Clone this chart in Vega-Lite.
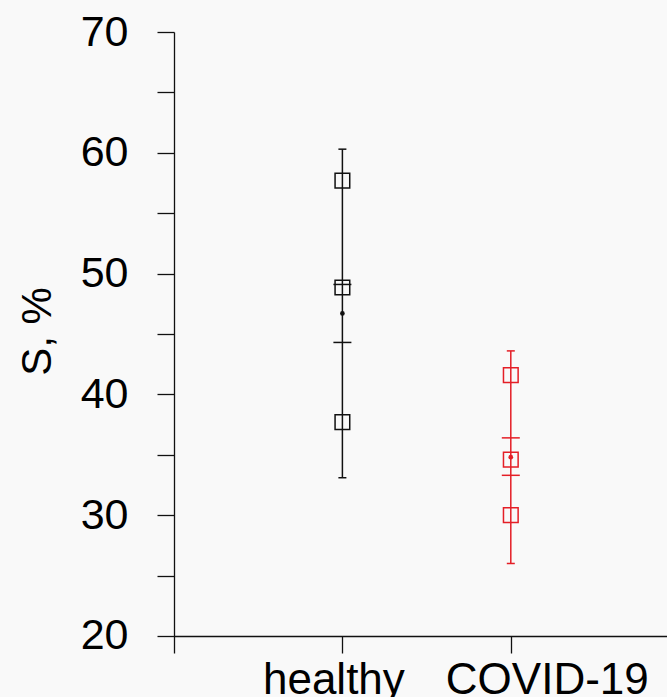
{
  "$schema": "https://vega.github.io/schema/vega-lite/v6.json",
  "autosize": {"type": "none"},
  "padding": {"left": 174, "top": 32, "right": 0, "bottom": 44},
  "width": 493,
  "height": 621,
  "background": "#f9f9f9",
  "config": {"view": {"stroke": null}, "font": "Liberation Sans"},
  "datasets": {
    "summary": [
      {"group": "healthy", "mean": 46.7, "se_lo": 44.3, "se_hi": 49.1, "lo": 33.1, "hi": 60.3},
      {"group": "COVID-19", "mean": 34.8, "se_lo": 33.3, "se_hi": 36.4, "lo": 26.0, "hi": 43.6}
    ],
    "points": [
      {"group": "healthy", "S": 57.7},
      {"group": "healthy", "S": 48.85},
      {"group": "healthy", "S": 37.7},
      {"group": "COVID-19", "S": 41.6},
      {"group": "COVID-19", "S": 34.6},
      {"group": "COVID-19", "S": 30.0}
    ]
  },
  "encoding": {
    "x": {
      "field": "group",
      "type": "nominal",
      "scale": {"type": "point", "domain": ["healthy", "COVID-19"], "range": [0, 505.2], "padding": 1},
      "axis": {
        "title": null,
        "offset": -17,
        "domainColor": "#111111",
        "domainWidth": 1.3,
        "tickColor": "#111111",
        "tickWidth": 1.3,
        "tickSize": 17,
        "labelFont": "Liberation Sans",
        "labelFontSize": 44,
        "labelColor": "#000000",
        "labelBaseline": "alphabetic",
        "labelPadding": 40,
        "labelAngle": 0,
        "labelLimit": 0,
        "labelOverlap": false,
        "labelOffset": {"condition": {"test": "datum.value === 'COVID-19'", "value": 36}, "value": -9}
      }
    },
    "color": {
      "field": "group",
      "type": "nominal",
      "scale": {"domain": ["healthy", "COVID-19"], "range": ["#111111", "#e41e26"]},
      "legend": null
    }
  },
  "layer": [
    {
      "data": {"name": "summary"},
      "mark": {"type": "rule", "strokeWidth": 1.5},
      "encoding": {
        "y": {
          "field": "lo",
          "type": "quantitative",
          "title": "S, %",
          "scale": {"domain": [18.59, 70], "nice": false, "zero": false},
          "axis": {
            "values": [20, 25, 30, 35, 40, 45, 50, 55, 60, 65, 70],
            "labelExpr": "datum.value % 10 === 0 ? datum.label : ''",
            "grid": false,
            "domainColor": "#111111",
            "domainWidth": 1.3,
            "tickColor": "#111111",
            "tickWidth": 1.3,
            "tickSize": 17,
            "labelFont": "Liberation Sans",
            "labelFontSize": 43,
            "labelColor": "#000000",
            "labelPadding": 29,
            "labelOverlap": false,
            "titleFont": "Liberation Sans",
            "titleFontSize": 42,
            "titleFontWeight": "normal",
            "titleColor": "#000000",
            "titleAngle": -90,
            "titleX": -124,
            "titleY": 299,
            "titleAlign": "center",
            "titleBaseline": "alphabetic"
          }
        },
        "y2": {"field": "hi"}
      }
    },
    {
      "data": {"name": "summary"},
      "mark": {"type": "tick", "size": 8, "thickness": 1.5, "opacity": 1},
      "encoding": {"y": {"field": "hi", "type": "quantitative", "title": "S, %"}}
    },
    {
      "data": {"name": "summary"},
      "mark": {"type": "tick", "size": 8, "thickness": 1.5, "opacity": 1},
      "encoding": {"y": {"field": "lo", "type": "quantitative", "title": "S, %"}}
    },
    {
      "data": {"name": "summary"},
      "mark": {"type": "tick", "size": 18, "thickness": 1.5, "opacity": 1},
      "encoding": {"y": {"field": "se_hi", "type": "quantitative", "title": "S, %"}}
    },
    {
      "data": {"name": "summary"},
      "mark": {"type": "tick", "size": 18, "thickness": 1.5, "opacity": 1},
      "encoding": {"y": {"field": "se_lo", "type": "quantitative", "title": "S, %"}}
    },
    {
      "data": {"name": "points"},
      "mark": {"type": "point", "shape": "square", "filled": false, "size": 215, "strokeWidth": 1.5, "opacity": 1},
      "encoding": {"y": {"field": "S", "type": "quantitative", "title": "S, %"}}
    },
    {
      "data": {"name": "summary"},
      "mark": {"type": "circle", "size": 22, "opacity": 1},
      "encoding": {"y": {"field": "mean", "type": "quantitative", "title": "S, %"}}
    }
  ]
}
